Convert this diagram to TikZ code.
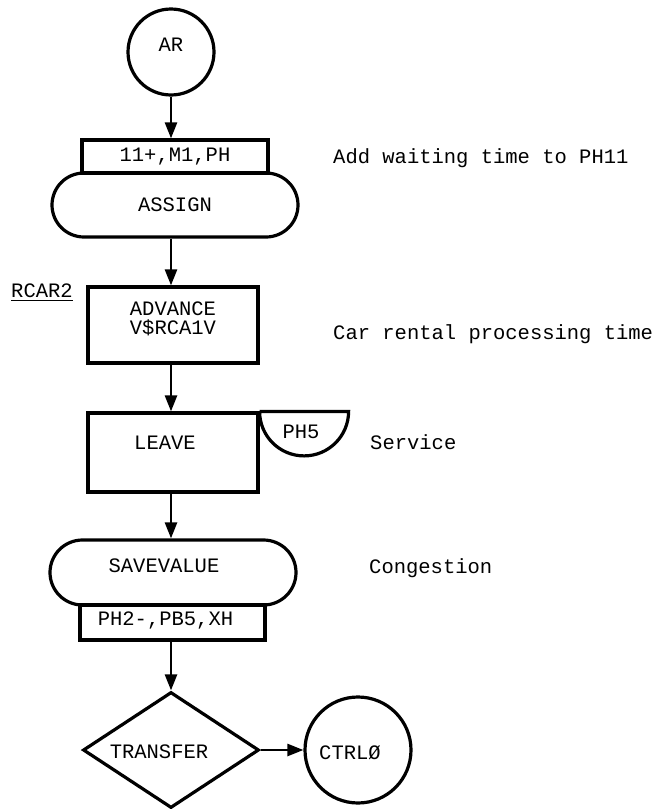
\documentclass[tikz,border=0pt]{standalone}
\usepackage{fontspec}
\setmainfont{Liberation Mono}
\usetikzlibrary{arrows.meta,shapes.geometric,shapes.misc}
\begin{document}
\begin{tikzpicture}[x=1pt,y=-1pt,
  every node/.style={font=\fontsize{20.5pt}{19pt}\selectfont},
  shp/.style={draw, line width=3.2pt, inner sep=2pt},
  box/.style={shp, rectangle},
  stad/.style={shp, rounded rectangle},
  circ/.style={shp, circle},
  dia/.style={shp, diamond},
  arr/.style={line width=2.6pt, -{Triangle[length=16pt,width=12pt]}},
  note/.style={anchor=base west, inner sep=0pt}]
\useasboundingbox (0,0) rectangle (667,809);

% main column
\node[circ, minimum size=86pt, label={[yshift=7pt]center:AR}] (ar) at (171,52) {};
\node[box, minimum width=186pt, minimum height=33pt] (b1) at (175,156.5) {11+,M1,PH};
\node[stad, minimum width=250pt, minimum height=64pt] (asg) at (175,205) {ASSIGN};
\node[box, minimum width=170pt, minimum height=76pt,
      label={[yshift=6pt,align=center,inner sep=0pt,font=\fontsize{20.5pt}{18.5pt}\selectfont]center:ADVANCE\\V\$RCA1V}] (adv) at (173,325) {};
\node[box, minimum width=170pt, minimum height=79pt,
      label={[xshift=-8pt,yshift=10pt]center:LEAVE}] (leave) at (173,452.5) {};
\node[stad, minimum width=250pt, minimum height=65pt,
      label={[xshift=-9pt,yshift=7pt]center:SAVEVALUE}] (sv) at (173,572.5) {};
\node[box, minimum width=185pt, minimum height=35pt,
      label={[xshift=-7pt,yshift=2pt]center:PH2-,PB5,XH}] (b2) at (172.5,622.5) {};
\node[dia, minimum width=176pt, minimum height=116pt,
      label={[xshift=-12pt,yshift=-2pt]center:TRANSFER}] (tr) at (171,750) {};
\node[circ, minimum size=106pt, label={[xshift=-8pt,yshift=-3pt]center:CTRLØ}] (ctrl) at (358,750) {};

% block label
\node[anchor=base, inner sep=0pt] (rc) at (42,297) {RCAR2};
\draw[line width=1.8pt] ([yshift=-3.5pt]rc.base west) -- ([yshift=-3.5pt]rc.base east);

% PH5 semicircle (storage)
\draw[line width=3.2pt] (leave.north east) -- ++(89,0) arc[start angle=0, end angle=180, radius=44.5];
\node (ph5) at (301,432) {PH5};

% connectors
\draw[arr] (ar.south) -- (ar.south |- b1.north);
\draw[arr] (ar.south |- asg.south) -- (ar.south |- adv.north);
\draw[arr] (ar.south |- adv.south) -- (ar.south |- leave.north);
\draw[arr] (ar.south |- leave.south) -- (ar.south |- sv.north);
\draw[arr] (ar.south |- b2.south) -- (tr.north);
\draw[arr] (tr.east) -- (ctrl.west);

% comments
\node[note] (n1) at (333,163) {Add waiting time to PH11};
\node[note] (n2) at (333,339) {Car rental processing time};
\node[note] (n3) at (370,449) {Service};
\node[note] (n4) at (369,573) {Congestion};
\end{tikzpicture}
\end{document}
